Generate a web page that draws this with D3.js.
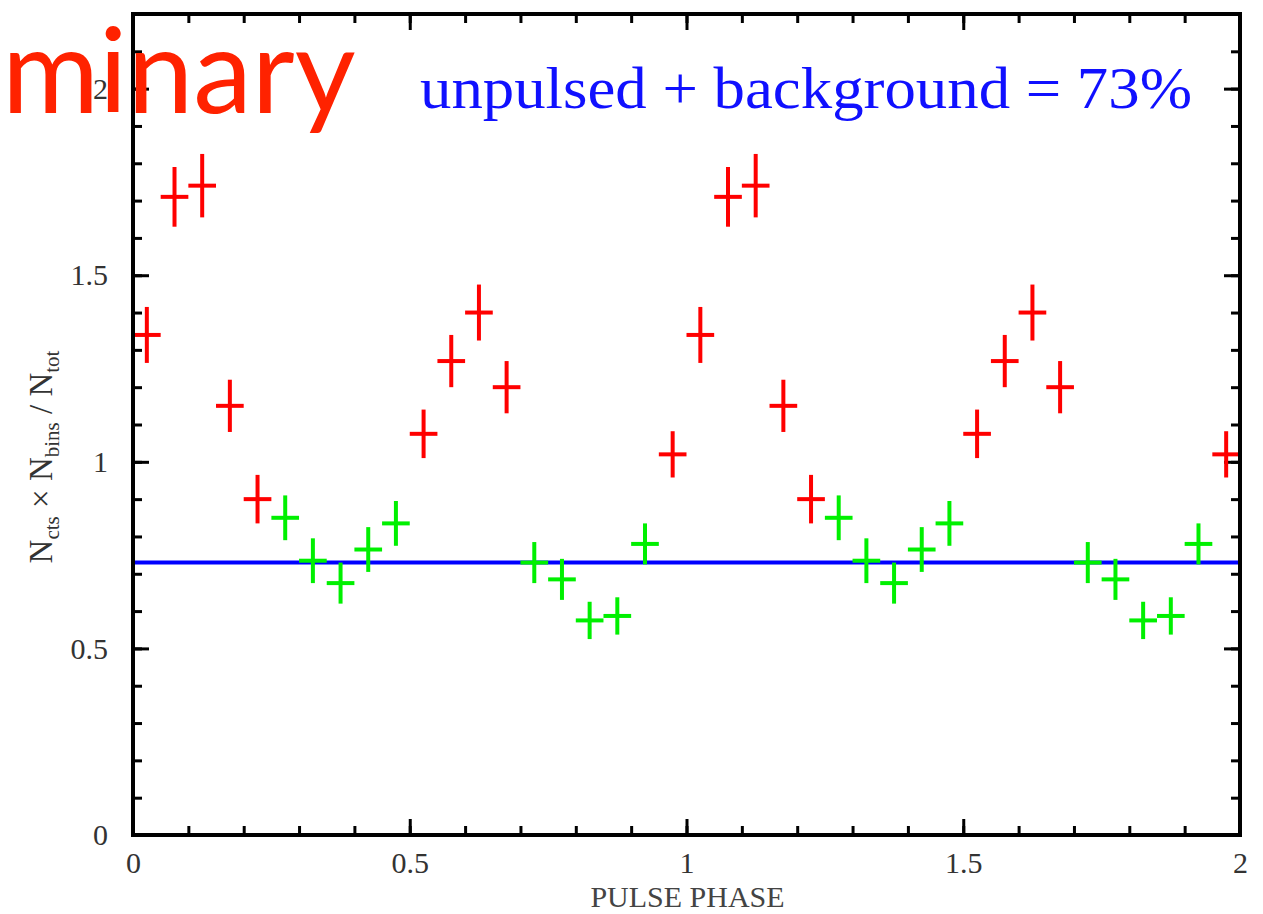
<!DOCTYPE html>
<html>
<head>
<meta charset="utf-8">
<script src="https://cdn.jsdelivr.net/npm/d3@7"></script>
<style>
  html, body { margin: 0; padding: 0; background: #fff; }
  svg { display: block; }
</style>
</head>
<body>
<svg id="chart" width="1263" height="914"></svg>
<script>
// ---- Data ----
const phases = [0.025,0.075,0.125,0.175,0.225,0.275,0.325,0.375,0.425,0.475,
                0.525,0.575,0.625,0.675,0.725,0.775,0.825,0.875,0.925,0.975,
                1.025,1.075,1.125,1.175,1.225,1.275,1.325,1.375,1.425,1.475,
                1.525,1.575,1.625,1.675,1.725,1.775,1.825,1.875,1.925,1.975];
const values = [1.34,1.71,1.74,1.15,0.90,0.85,0.735,0.675,0.765,0.835,
                1.075,1.27,1.40,1.20,0.73,0.685,0.575,0.587,0.78,1.02,
                1.34,1.71,1.74,1.15,0.90,0.85,0.735,0.675,0.765,0.835,
                1.075,1.27,1.40,1.20,0.73,0.685,0.575,0.587,0.78,1.02];
const errors = [0.075,0.08,0.085,0.07,0.065,0.06,0.06,0.055,0.06,0.06,
                0.065,0.07,0.075,0.07,0.055,0.055,0.05,0.05,0.055,0.062,
                0.075,0.08,0.085,0.07,0.065,0.06,0.06,0.055,0.06,0.06,
                0.065,0.07,0.075,0.07,0.055,0.055,0.05,0.05,0.055,0.062];
const pulsed = [1,1,1,1,1,0,0,0,0,0, 1,1,1,1,0,0,0,0,0,1,
                1,1,1,1,1,0,0,0,0,0, 1,1,1,1,0,0,0,0,0,1];
const binHalfWidth = 0.025;
const unpulsedLevel = 0.73;
const xTicks = [0, 0.5, 1, 1.5, 2];
const yTicks = [0, 0.5, 1, 1.5, 2];
const xMinor = d3.range(0, 2.0001, 0.1);
const yMinor = d3.range(0, 2.2001, 0.1);

// ---- Layout ----
const W = 1263, H = 914;
const m = {left: 133, right: 23, top: 14, bottom: 79};
const iw = W - m.left - m.right, ih = H - m.top - m.bottom;

const svg = d3.select("#chart");
const g = svg.append("g").attr("transform", `translate(${m.left},${m.top})`);

const x = d3.scaleLinear().domain([0, 2]).range([0, iw]);
const y = d3.scaleLinear().domain([0, 2.2]).range([ih, 0]);

const serif = "'Liberation Serif', 'DejaVu Serif', serif";
const tickFmt = d => d3.format("")(d);

function styleAxis(sel) {
  sel.select(".domain").remove();
  sel.selectAll(".tick line").attr("stroke", "#000").attr("stroke-width", 3);
  sel.selectAll(".tick text").attr("font-family", serif).attr("font-size", 30).attr("fill", "#333");
}

// minor ticks (all four sides, inward)
g.append("g").attr("transform", `translate(0,${ih})`)
  .call(d3.axisBottom(x).tickValues(xMinor).tickSize(-9).tickFormat("")).call(styleAxis);
g.append("g")
  .call(d3.axisTop(x).tickValues(xMinor).tickSize(-9).tickFormat("")).call(styleAxis);
g.append("g")
  .call(d3.axisLeft(y).tickValues(yMinor).tickSize(-9).tickFormat("")).call(styleAxis);
g.append("g").attr("transform", `translate(${iw},0)`)
  .call(d3.axisRight(y).tickValues(yMinor).tickSize(-9).tickFormat("")).call(styleAxis);

// major ticks with labels
g.append("g").attr("transform", `translate(0,${ih})`)
  .call(d3.axisBottom(x).tickValues(xTicks).tickSize(-16).tickPadding(17).tickFormat(tickFmt)).call(styleAxis);
g.append("g")
  .call(d3.axisTop(x).tickValues(xTicks).tickSize(-16).tickFormat("")).call(styleAxis);
g.append("g")
  .call(d3.axisLeft(y).tickValues(yTicks).tickSize(-16).tickPadding(25).tickFormat(tickFmt)).call(styleAxis);
g.append("g").attr("transform", `translate(${iw},0)`)
  .call(d3.axisRight(y).tickValues(yTicks).tickSize(-16).tickFormat("")).call(styleAxis);

// unpulsed level line
g.append("line")
  .attr("x1", x(0)).attr("x2", x(2))
  .attr("y1", y(unpulsedLevel)).attr("y2", y(unpulsedLevel))
  .attr("stroke", "#0000ff").attr("stroke-width", 4);

// data crosses
const pts = phases.map((p, i) => ({p, v: values[i], e: errors[i], pulsed: pulsed[i]}));
const color = d => d.pulsed ? "#ff0000" : "#00f000";
const crosses = g.append("g").selectAll("g").data(pts).join("g");
crosses.append("line")
  .attr("x1", d => x(d.p - binHalfWidth)).attr("x2", d => x(d.p + binHalfWidth))
  .attr("y1", d => y(d.v)).attr("y2", d => y(d.v))
  .attr("stroke", color).attr("stroke-width", 4);
crosses.append("line")
  .attr("x1", d => x(d.p)).attr("x2", d => x(d.p))
  .attr("y1", d => y(d.v - d.e)).attr("y2", d => y(d.v + d.e))
  .attr("stroke", color).attr("stroke-width", 4);

// frame
g.append("rect").attr("x", 0).attr("y", 0).attr("width", iw).attr("height", ih)
  .attr("fill", "none").attr("stroke", "#000").attr("stroke-width", 4);

// axis titles
svg.append("text")
  .attr("x", m.left + iw / 2 + 1).attr("y", 907)
  .attr("text-anchor", "middle")
  .attr("font-family", serif).attr("font-size", 30).attr("fill", "#444")
  .text("PULSE PHASE");

const yl = svg.append("text")
  .attr("transform", "translate(52,457) rotate(-90)")
  .attr("text-anchor", "middle")
  .attr("font-family", serif).attr("font-size", 33).attr("fill", "#333");
yl.append("tspan").text("N");
yl.append("tspan").attr("font-size", 21).attr("dy", 7).text("cts");
yl.append("tspan").attr("dy", -7).text(" × N");
yl.append("tspan").attr("font-size", 21).attr("dy", 7).text("bins");
yl.append("tspan").attr("dy", -7).text(" / N");
yl.append("tspan").attr("font-size", 21).attr("dy", 7).text("tot");

// annotation
svg.append("text")
  .attr("x", 420).attr("y", 108)
  .attr("font-family", serif).attr("font-size", 60).attr("fill", "#1010ff")
  .attr("textLength", 772).attr("lengthAdjust", "spacingAndGlyphs")
  .text("unpulsed + background = 73%");

// overlay watermark fragment
svg.append("text")
  .attr("x", 2).attr("y", 113)
  .attr("font-family", "Lato, 'Open Sans', sans-serif").attr("font-size", 118).attr("fill", "#ff2200")
  .text("minary");
</script>
</body>
</html>
